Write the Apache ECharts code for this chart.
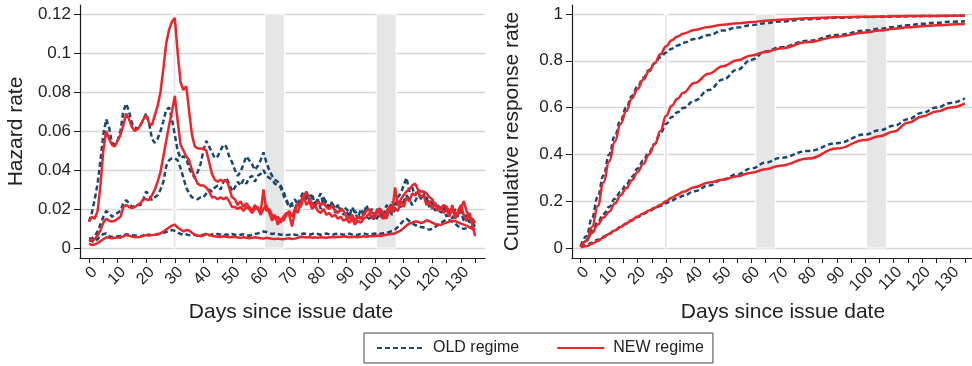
<!DOCTYPE html>
<html>
<head>
<meta charset="utf-8">
<script src="https://cdn.jsdelivr.net/npm/echarts@6/dist/echarts.min.js"></script>
<style>
html,body{margin:0;padding:0;background:#fff;}
#c{width:972px;height:366px;}
</style>
</head>
<body>
<div id="c"></div>
<script>
// ---------- DATA ----------
const hazDays = [0,1,2,3,4,5,6,7,8,9,10,11,12,13,14,15,16,17,18,19,20,21,22,23,24,25,26,27,28,29,30,31,32,33,34,35,36,37,38,39,40,41,42,43,44,45,46,47,48,49,50,51,52,53,54,55,56,57,58,59,60,61,62,63,64,65,66,67,68,69,70,71,72,73,74,75,76,77,78,79,80,81,82,83,84,85,86,87,88,89,90,91,92,93,94,95,96,97,98,99,100,101,102,103,104,105,106,107,108,109,110,111,112,113,114,115,116,117,118,119,120,121,122,123,124,125,126,127,128,129,130,131,132,133,134,135];

const hazOldHi = [0.0135,0.018,0.025,0.033,0.045,0.058,0.066,0.062,0.054,0.053,
0.055,0.06,0.07,0.074,0.07,0.064,0.062,0.061,0.063,0.066,
0.069,0.064,0.056,0.054,0.056,0.06,0.065,0.071,0.072,0.066,
0.058,0.05,0.046,0.047,0.046,0.041,0.038,0.036,0.039,0.043,
0.05,0.055,0.052,0.049,0.046,0.047,0.05,0.053,0.052,0.047,
0.044,0.04,0.037,0.039,0.043,0.047,0.045,0.043,0.04,0.042,
0.045,0.049,0.044,0.04,0.037,0.035,0.034,0.032,0.029,0.025,
0.021,0.022,0.02,0.024,0.022,0.027,0.024,0.028,0.026,0.022,
0.025,0.02,0.026,0.023,0.02,0.024,0.018,0.021,0.02,0.017,
0.019,0.016,0.021,0.018,0.015,0.02,0.017,0.022,0.018,0.02,
0.016,0.021,0.019,0.017,0.022,0.02,0.024,0.021,0.026,0.028,
0.032,0.036,0.029,0.031,0.027,0.03,0.025,0.029,0.026,0.021,
0.024,0.019,0.022,0.018,0.021,0.016,0.019,0.015,0.02,0.016,
0.019,0.014,0.017,0.013,0.015,0.012];

const hazOldMid = [0.005,0.0048,0.006,0.0085,0.012,0.016,0.019,0.018,0.016,0.017,
0.018,0.019,0.023,0.0245,0.023,0.021,0.0215,0.022,0.022,0.025,
0.029,0.027,0.0245,0.026,0.027,0.03,0.034,0.042,0.045,0.046,
0.046,0.045,0.041,0.036,0.031,0.028,0.026,0.0255,0.025,0.026,
0.026,0.028,0.03,0.029,0.031,0.032,0.03,0.034,0.036,0.033,
0.029,0.031,0.034,0.032,0.035,0.033,0.036,0.037,0.034,0.037,
0.038,0.04,0.037,0.036,0.035,0.033,0.032,0.031,0.027,0.024,
0.021,0.023,0.025,0.022,0.026,0.029,0.027,0.024,0.027,0.023,
0.025,0.028,0.022,0.024,0.021,0.023,0.02,0.022,0.019,0.021,
0.02,0.018,0.016,0.019,0.017,0.015,0.018,0.016,0.015,0.017,
0.014,0.016,0.018,0.015,0.017,0.019,0.017,0.02,0.022,0.021,
0.024,0.027,0.025,0.022,0.024,0.027,0.026,0.028,0.023,0.025,
0.021,0.023,0.02,0.022,0.019,0.021,0.017,0.02,0.016,0.018,
0.021,0.016,0.014,0.016,0.013,0.011];

const hazOldLo = [0.004,0.0035,0.003,0.0045,0.006,0.0072,0.0074,0.0062,0.0056,0.0058,
0.006,0.0062,0.0065,0.007,0.0068,0.0066,0.0064,0.0062,0.006,0.0065,
0.0072,0.0068,0.0066,0.0068,0.007,0.0072,0.0078,0.0082,0.0088,0.0092,
0.0088,0.008,0.0072,0.0068,0.007,0.0066,0.0064,0.0068,0.0062,0.0065,
0.0068,0.0072,0.0066,0.007,0.0067,0.0072,0.0068,0.0065,0.007,0.0066,
0.0072,0.0068,0.0064,0.0068,0.007,0.0066,0.0063,0.0068,0.0072,0.0075,
0.0078,0.0085,0.0082,0.0076,0.0072,0.0075,0.0072,0.0068,0.007,0.0066,
0.0068,0.0072,0.0068,0.0066,0.007,0.0074,0.0071,0.0068,0.0072,0.0075,
0.0072,0.0068,0.0071,0.0074,0.007,0.0067,0.0072,0.0074,0.0071,0.0068,
0.007,0.0073,0.0069,0.0066,0.0068,0.0072,0.0075,0.0071,0.0068,0.0072,
0.0074,0.007,0.0073,0.0076,0.0078,0.0082,0.0088,0.0095,0.0108,0.0125,
0.014,0.015,0.0138,0.0125,0.0118,0.0112,0.0108,0.0105,0.0098,0.0094,
0.0098,0.0108,0.0118,0.0128,0.0138,0.0145,0.0142,0.0135,0.0125,0.0112,
0.0102,0.0098,0.0102,0.0108,0.0104,0.01];

const hazNewHi = [0.0135,0.016,0.015,0.019,0.032,0.05,0.06,0.056,0.053,0.052,
0.055,0.058,0.063,0.069,0.066,0.062,0.06,0.061,0.063,0.066,
0.068,0.064,0.063,0.068,0.073,0.08,0.092,0.105,0.112,0.116,
0.118,0.1,0.085,0.081,0.083,0.07,0.058,0.052,0.051,0.051,
0.051,0.05,0.044,0.038,0.035,0.034,0.035,0.034,0.035,0.031,
0.026,0.025,0.022,0.024,0.021,0.023,0.021,0.019,0.022,0.02,
0.018,0.03,0.019,0.02,0.017,0.015,0.016,0.013,0.016,0.018,
0.017,0.011,0.019,0.023,0.021,0.026,0.029,0.025,0.023,0.021,
0.024,0.022,0.023,0.021,0.02,0.022,0.019,0.018,0.02,0.019,
0.016,0.015,0.017,0.014,0.016,0.015,0.017,0.019,0.02,0.018,
0.017,0.02,0.016,0.015,0.019,0.021,0.018,0.031,0.022,0.025,
0.027,0.029,0.03,0.032,0.033,0.03,0.029,0.029,0.028,0.026,
0.025,0.022,0.021,0.02,0.022,0.021,0.019,0.02,0.018,0.017,
0.02,0.024,0.019,0.016,0.015,0.013];

const hazNewMid = [0.0045,0.004,0.0045,0.0065,0.009,0.013,0.015,0.014,0.0135,0.014,
0.015,0.016,0.021,0.022,0.021,0.0205,0.021,0.022,0.023,0.025,
0.025,0.0245,0.027,0.03,0.034,0.039,0.047,0.055,0.063,0.07,
0.078,0.065,0.053,0.05,0.047,0.045,0.04,0.036,0.033,0.032,
0.032,0.031,0.029,0.026,0.026,0.025,0.026,0.025,0.026,0.024,
0.021,0.021,0.02,0.021,0.019,0.021,0.02,0.018,0.02,0.021,
0.017,0.02,0.022,0.018,0.014,0.017,0.012,0.015,0.014,0.017,
0.019,0.016,0.02,0.018,0.024,0.027,0.022,0.024,0.02,0.022,
0.019,0.018,0.02,0.017,0.018,0.016,0.017,0.015,0.016,0.014,
0.015,0.013,0.015,0.012,0.014,0.013,0.015,0.016,0.018,0.015,
0.016,0.019,0.02,0.017,0.015,0.02,0.022,0.02,0.019,0.024,
0.021,0.026,0.024,0.028,0.027,0.029,0.026,0.027,0.022,0.024,
0.02,0.023,0.019,0.021,0.018,0.02,0.016,0.022,0.015,0.019,
0.022,0.017,0.014,0.018,0.012,0.006];

const hazNewLo = [0.0023,0.0015,0.0018,0.0025,0.0035,0.0045,0.0055,0.0052,0.005,0.0052,
0.0055,0.0053,0.006,0.0066,0.0063,0.0058,0.0056,0.0055,0.0058,0.0062,
0.0066,0.0064,0.0066,0.0068,0.0072,0.0075,0.0085,0.0095,0.0105,0.0115,
0.012,0.0105,0.0095,0.0085,0.0092,0.009,0.0078,0.0068,0.0065,0.006,
0.0064,0.0072,0.0066,0.0062,0.006,0.0058,0.0056,0.006,0.0058,0.0055,
0.0058,0.0056,0.0054,0.0052,0.0055,0.0053,0.005,0.0052,0.0055,0.0053,
0.005,0.0048,0.0052,0.005,0.0047,0.0046,0.0048,0.0046,0.0045,0.0048,
0.005,0.0046,0.0048,0.0052,0.0058,0.0056,0.0054,0.0056,0.0053,0.0055,
0.0052,0.0055,0.0054,0.0052,0.0055,0.0057,0.0055,0.0058,0.0056,0.006,
0.0058,0.0055,0.0056,0.0058,0.0055,0.0057,0.006,0.0058,0.006,0.0062,
0.006,0.0064,0.0062,0.0065,0.0068,0.007,0.0072,0.0076,0.0082,0.009,
0.0102,0.0115,0.0125,0.013,0.0136,0.0135,0.0128,0.0132,0.0142,0.0138,
0.013,0.0122,0.012,0.0118,0.0125,0.013,0.0136,0.014,0.0138,0.0132,
0.0125,0.012,0.0115,0.0105,0.0098,0.0092];

const cumDays = [0,2,4,6,8,10,12,14,16,18,20,22,24,26,28,30,32,34,36,40,45,50,55,60,65,70,80,90,100,105,110,115,120,125,130,135];
const cumOldHi  = [0.008,0.05,0.13,0.22,0.31,0.4,0.48,0.545,0.6,0.65,0.69,0.728,0.76,0.79,0.815,0.835,0.852,0.865,0.877,0.893,0.91,0.93,0.942,0.953,0.961,0.968,0.978,0.984,0.987,0.988,0.989,0.99,0.991,0.991,0.992,0.993];
const cumNewHi  = [0.005,0.03,0.09,0.18,0.28,0.37,0.455,0.53,0.585,0.64,0.68,0.72,0.755,0.79,0.828,0.862,0.888,0.904,0.916,0.932,0.945,0.954,0.96,0.966,0.971,0.975,0.982,0.986,0.988,0.989,0.99,0.991,0.992,0.992,0.993,0.994];
const cumOldMid = [0.008,0.035,0.075,0.11,0.145,0.175,0.21,0.24,0.27,0.305,0.34,0.375,0.41,0.445,0.49,0.53,0.56,0.58,0.598,0.63,0.675,0.72,0.762,0.805,0.84,0.858,0.886,0.91,0.929,0.937,0.945,0.952,0.958,0.963,0.967,0.969];
const cumNewMid = [0.005,0.03,0.065,0.1,0.13,0.155,0.19,0.225,0.255,0.29,0.325,0.36,0.4,0.442,0.5,0.565,0.608,0.638,0.663,0.705,0.745,0.777,0.802,0.823,0.838,0.853,0.88,0.903,0.921,0.929,0.937,0.943,0.948,0.952,0.955,0.957];
const cumOldLo  = [0.005,0.012,0.022,0.035,0.048,0.062,0.076,0.09,0.104,0.118,0.132,0.145,0.157,0.169,0.18,0.192,0.203,0.213,0.223,0.243,0.267,0.293,0.315,0.34,0.365,0.385,0.415,0.448,0.485,0.503,0.522,0.55,0.578,0.6,0.62,0.64];
const cumNewLo  = [0.003,0.008,0.018,0.03,0.045,0.06,0.075,0.09,0.105,0.12,0.135,0.148,0.16,0.172,0.185,0.2,0.215,0.228,0.24,0.26,0.28,0.292,0.307,0.322,0.337,0.352,0.382,0.425,0.462,0.478,0.498,0.535,0.562,0.583,0.6,0.618];

const bands = [[29.4,30.4],[61.5,68.3],[100.4,107.4]];
const xTickVals  = [0,5,10,15,20,25,30,35,40,45,50,55,60,65,70,75,80,85,90,95,100,105,110,115,120,125,130,135];
const xLabelVals = [0,10,20,30,40,50,60,70,80,90,100,110,120,130];
const hazTicks = [0,0.02,0.04,0.06,0.08,0.1,0.12];
const cumTicks = [0,0.2,0.4,0.6,0.8,1];
const seriesNames = ['OLD regime','NEW regime'];

// ---------- STYLE ----------
const FF = "'Liberation Sans', Arial, Helvetica, sans-serif";
const NAVY = '#1a476f';
const RED = '#e8262b';
const TXT = '#222222';
const AX = '#1a1a1a';

function pairs(xs, ys){ return xs.map((x,i)=>[x, ys[i]]); }

function xAxis(gi, min, max, shift){
  return {
    type:'value', gridIndex:gi, min:min, max:max,
    axisLine:{show:true, onZero:false, lineStyle:{color:AX, width:1.2}},
    axisTick:{show:true, length:5, customValues:xTickVals, lineStyle:{color:AX, width:1}},
    axisLabel:{customValues:xLabelVals, rotate:45, margin:6, verticalAlign:'top', fontSize:16, color:TXT, fontFamily:FF},
    splitLine:{show:false},
    name:'Days since issue date', nameLocation:'middle', nameGap:40,
    nameTextStyle:{fontSize:21, color:TXT, fontFamily:FF, padding:[0,0,0,shift]}
  };
}
function yAxis(gi, min, max, ticks, name, gap){
  return {
    type:'value', gridIndex:gi, min:min, max:max,
    axisLine:{show:true, onZero:false, lineStyle:{color:AX, width:1.2}},
    axisTick:{show:true, length:6, customValues:ticks, lineStyle:{color:AX, width:1}},
    axisLabel:{customValues:ticks, margin:9, fontSize:17, color:TXT, fontFamily:FF},
    splitLine:{show:true, lineStyle:{color:'#d6d6d6', width:1.3}},
    name:name, nameLocation:'middle', nameRotate:90, nameGap:gap,
    nameTextStyle:{fontSize:21, color:TXT, fontFamily:FF}
  };
}
function bandArea(y0, y1){
  return {
    silent:true, z:1,
    itemStyle:{color:'#e5e6e6', borderColor:'#ffffff', borderWidth:1},
    data: bands.map(b=>[{coord:[b[0], y0]},{coord:[b[1], y1]}])
  };
}
function line(name, gi, xs, ys, smooth){
  const old = name === seriesNames[0];
  return {
    type:'line', name:name, xAxisIndex:gi, yAxisIndex:gi,
    data:pairs(xs, ys), symbol:'none', showSymbol:false, silent:true,
    smooth: smooth ? 0.45 : false, smoothMonotone: smooth ? 'x' : undefined,
    lineStyle: old ? {color:NAVY, width:2.5, type:[5,3]} : {color:RED, width:2.5, type:'solid'},
    itemStyle:{color: old ? NAVY : RED},
    z: old ? 2 : 3
  };
}

const series = [];
const s0 = line(seriesNames[0], 0, hazDays, hazOldHi, false);
s0.markArea = bandArea(0, 0.12);
series.push(s0);
series.push(line(seriesNames[0], 0, hazDays, hazOldMid, false));
series.push(line(seriesNames[0], 0, hazDays, hazOldLo, false));
series.push(line(seriesNames[1], 0, hazDays, hazNewHi, false));
series.push(line(seriesNames[1], 0, hazDays, hazNewMid, false));
series.push(line(seriesNames[1], 0, hazDays, hazNewLo, false));
const s6 = line(seriesNames[0], 1, cumDays, cumOldHi, true);
s6.markArea = bandArea(0, 1);
series.push(s6);
series.push(line(seriesNames[0], 1, cumDays, cumOldMid, true));
series.push(line(seriesNames[0], 1, cumDays, cumOldLo, true));
series.push(line(seriesNames[1], 1, cumDays, cumNewHi, true));
series.push(line(seriesNames[1], 1, cumDays, cumNewMid, true));
series.push(line(seriesNames[1], 1, cumDays, cumNewLo, true));

const option = {
  backgroundColor:'#ffffff',
  animation:false,
  grid:[
    {left:80, top:5, width:405, height:253},
    {left:572, top:5, width:400, height:253}
  ],
  xAxis:[ xAxis(0, -3.15, 138.45, 17), xAxis(1, -3.06, 137.5, 22) ],
  yAxis:[ yAxis(0, -0.00513, 0.1246, hazTicks, 'Hazard rate', 53),
          yAxis(1, -0.0427, 1.0385, cumTicks, 'Cumulative response rate', 49) ],
  legend:{
    data:seriesNames, left:364, top:333, orient:'horizontal',
    itemWidth:47, itemHeight:14, itemGap:37,
    padding:[7,9,7,12], borderColor:'#444', borderWidth:1,
    itemStyle:{opacity:0},
    textStyle:{fontSize:16, color:TXT, fontFamily:FF, padding:[0,0,0,4]},
    selectedMode:false
  },
  series:series
};

const chart = echarts.init(document.getElementById('c'), null, {renderer:'canvas'});
chart.setOption(option);
</script>
</body>
</html>
